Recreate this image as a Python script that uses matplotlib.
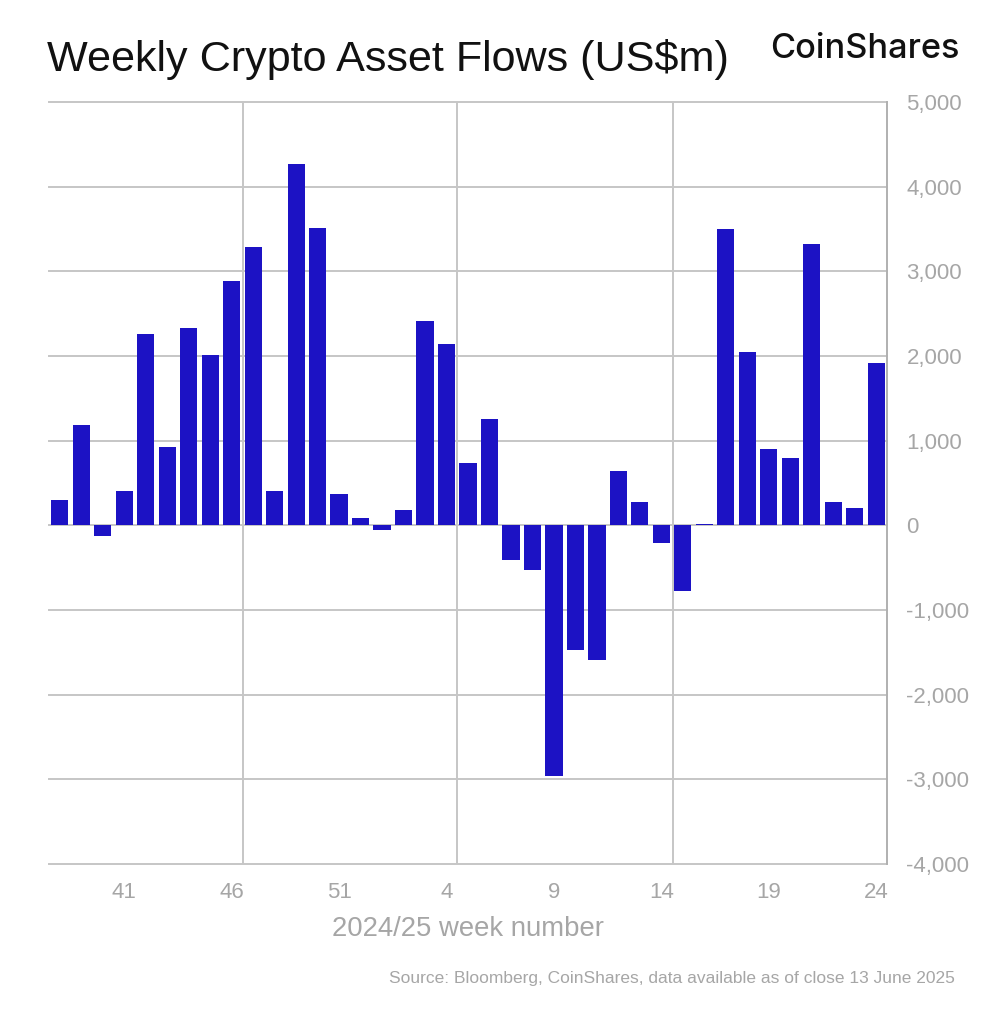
import matplotlib
matplotlib.use("Agg")
import matplotlib.pyplot as plt
from matplotlib.ticker import FuncFormatter

weeks = [38,39,40,41,42,43,44,45,46,47,48,49,50,51,52,
         1,2,3,4,5,6,7,8,9,10,11,12,13,14,15,16,17,18,19,20,21,22,23,24]
flows = [300,1190,-130,400,2260,930,2330,2010,2880,3290,410,4270,3510,370,90,
         -50,180,2410,2140,740,1260,-410,-530,-2960,-1470,-1590,640,280,-210,-780,20,
         3500,2050,900,790,3320,270,200,1920]
labelled_weeks = [41,46,51,4,9,14,19,24]
title = "Weekly Crypto Asset Flows (US$m)"
brand = "CoinShares"
xlabel = "2024/25 week number"
source = "Source: Bloomberg, CoinShares, data available as of close 13 June 2025"

W, H = 1005, 1024
GREY = "#a6a6a6"
GRID = "#c6c6c6"
BAR = "#1c12c4"
plt.rcParams["font.family"] = ["Liberation Sans", "DejaVu Sans"]

fig = plt.figure(figsize=(W/100, H/100), dpi=100, facecolor="white")
ax = fig.add_axes([49/W, 1-864/H, (887-49)/W, (864-102)/H])
x = list(range(len(weeks)))
ax.bar(x, flows, width=0.8, color=BAR, zorder=3)
ax.set_xlim(-0.5, len(weeks)-0.5)
ax.set_ylim(-4000, 5000)

ax.yaxis.tick_right()
ax.set_yticks(range(-4000, 5001, 1000))
ax.yaxis.set_major_formatter(FuncFormatter(lambda v, _: f"{int(v):,}"))
ax.grid(axis="y", color=GRID, lw=1.4, zorder=1, clip_on=False)
ax.set_axisbelow(True)
ticks = [weeks.index(w) for w in labelled_weeks]
ax.set_xticks(ticks)
ax.set_xticklabels([str(w) for w in labelled_weeks])
for t in (8.55, 18.5, 28.52):
    ax.axvline(t, color=GRID, lw=1.4, zorder=1)
ax.tick_params(axis="y", length=0, pad=14, labelsize=16, labelcolor=GREY)
ax.tick_params(axis="x", length=0, pad=13, labelsize=16, labelcolor=GREY)
for s in ("left", "top", "bottom"):
    ax.spines[s].set_visible(False)
ax.spines["right"].set_color("#b0b0b0")
ax.spines["right"].set_linewidth(1.4)

fig.text(47/W, 1-60/H, title, fontsize=31.1, color="#111111",
         va="center", ha="left")
fig.text(959/W, 1-49/H, brand, fontsize=24.7, color="#111111", family=["Inter", "Liberation Sans"],
         va="center", ha="right", fontweight="medium")
fig.text(468/W, 1-929/H, xlabel, fontsize=19.8, color=GREY, ha="center", va="center")
fig.text(955/W, 1-978/H, source, fontsize=12.5, color=GREY, ha="right", va="center")
fig.savefig("out.png", dpi=100)
